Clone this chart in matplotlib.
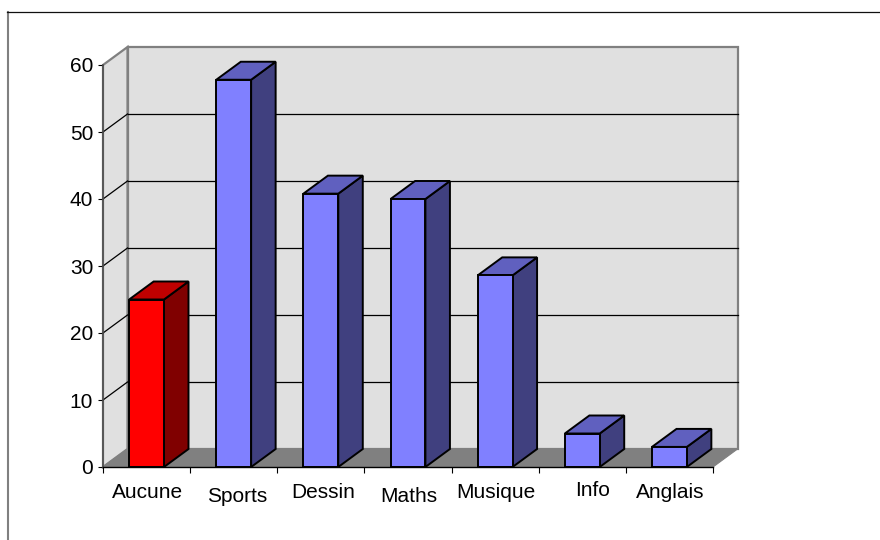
import matplotlib
matplotlib.use("Agg")
import matplotlib.pyplot as plt
from matplotlib.lines import Line2D
from matplotlib.patches import Polygon
from matplotlib.transforms import offset_copy

plt.rcParams['font.family'] = ['Liberation Sans', 'DejaVu Sans']

categories = ["Aucune", "Sports", "Dessin", "Maths", "Musique", "Info", "Anglais"]
values = [25, 57.8, 40.8, 40, 28.6, 5, 3]
bar_colors = ["#FF0000", "#8080FF", "#8080FF", "#8080FF", "#8080FF", "#8080FF", "#8080FF"]
top_colors = ["#BF0000", "#6060BF", "#6060BF", "#6060BF", "#6060BF", "#6060BF", "#6060BF"]
side_colors = ["#800000", "#40407F", "#40407F", "#40407F", "#40407F", "#40407F", "#40407F"]
y_ticks = [0, 10, 20, 30, 40, 50, 60]
label_dx = [1, 3, 2, 1, 1, 10, 1]
label_dy = [-25, -29, -25, -29, -25, -23, -25]

W, H = 880, 540
L, R, B, T = 103, 713, 467, 65
fig = plt.figure(figsize=(W / 100, H / 100), dpi=100, facecolor="white")
ax = fig.add_axes([L / W, 1 - B / H, (R - L) / W, (B - T) / H])
ax.set_xlim(0, len(categories))
ax.set_ylim(0, 60)
ax.patch.set_visible(False)
for s in ax.spines.values():
    s.set_visible(False)

px_x = len(categories) / (R - L)
px_y = 60 / (B - T)
dx = 24.5 * px_x
dy = 18 * px_y
n = len(categories)
bw = 0.4

# chart-area border: grey on the left, black on top, running off the right edge
fig.add_artist(Line2D([7.5 / W, 7.5 / W], [0, 1 - 11.5 / H], transform=fig.transFigure, color="#808080", lw=1.5))
fig.add_artist(Line2D([7 / W, 1], [1 - 11.5 / H, 1 - 11.5 / H], transform=fig.transFigure, color="#101010", lw=0.9))

# walls and floor
ax.add_patch(Polygon([(dx, dy), (n + dx, dy), (n + dx, 60 + dy), (dx, 60 + dy)],
                     fc="#E0E0E0", ec="#808080", lw=1.6, clip_on=False, zorder=1))
ax.add_patch(Polygon([(0, 0), (dx, dy), (dx, 60 + dy), (0, 60)],
                     fc="#E0E0E0", ec="#808080", lw=1.6, clip_on=False, zorder=1))
ax.add_patch(Polygon([(0, 0), (dx, dy), (n + dx, dy), (n, 0)],
                     fc="#808080", ec="#808080", lw=0.8, clip_on=False, zorder=1.5))
for v in y_ticks[1:-1]:
    ax.plot([0, dx], [v, v + dy], color="black", lw=0.9, clip_on=False, zorder=2)
    ax.plot([dx, n + dx], [v + dy, v + dy], color="black", lw=0.9, clip_on=False, zorder=2, snap=True)

# bars
for i, v in enumerate(values):
    x0 = i + 0.5 - bw / 2
    x1 = i + 0.5 + bw / 2
    kw = dict(ec="black", lw=1.4, joinstyle="miter", clip_on=False, zorder=3 + i * 0.01)
    ax.add_patch(Polygon([(x1, 0), (x1 + dx, dy), (x1 + dx, v + dy), (x1, v)], fc=side_colors[i], **kw))
    ax.add_patch(Polygon([(x0, v), (x1, v), (x1 + dx, v + dy), (x0 + dx, v + dy)], fc=top_colors[i], **kw))
    ax.add_patch(Polygon([(x0, 0), (x1, 0), (x1, v), (x0, v)], fc=bar_colors[i], **kw))

# axes lines and ticks
ax.plot([0, 0], [0, 60], color="#505050", lw=1.2, clip_on=False, zorder=4)
ax.plot([0, n], [0, 0], color="black", lw=1.0, clip_on=False, zorder=4)
ax.set_xticks(range(n + 1))
ax.set_xticklabels([])
ax.set_yticks(y_ticks)
ax.tick_params(axis="x", length=4.3, width=0.8, color="black")
ax.tick_params(axis="y", length=3.6, width=0.8, color="black", labelsize=15, pad=3.5)

for i, c in enumerate(categories):
    tr = offset_copy(ax.transData, fig=fig, x=label_dx[i], y=label_dy[i], units="dots")
    ax.text(i + 0.5, 0, c, transform=tr, ha="center", va="center", fontsize=15, color="black", clip_on=False)

fig.savefig("out.png", dpi=100)
